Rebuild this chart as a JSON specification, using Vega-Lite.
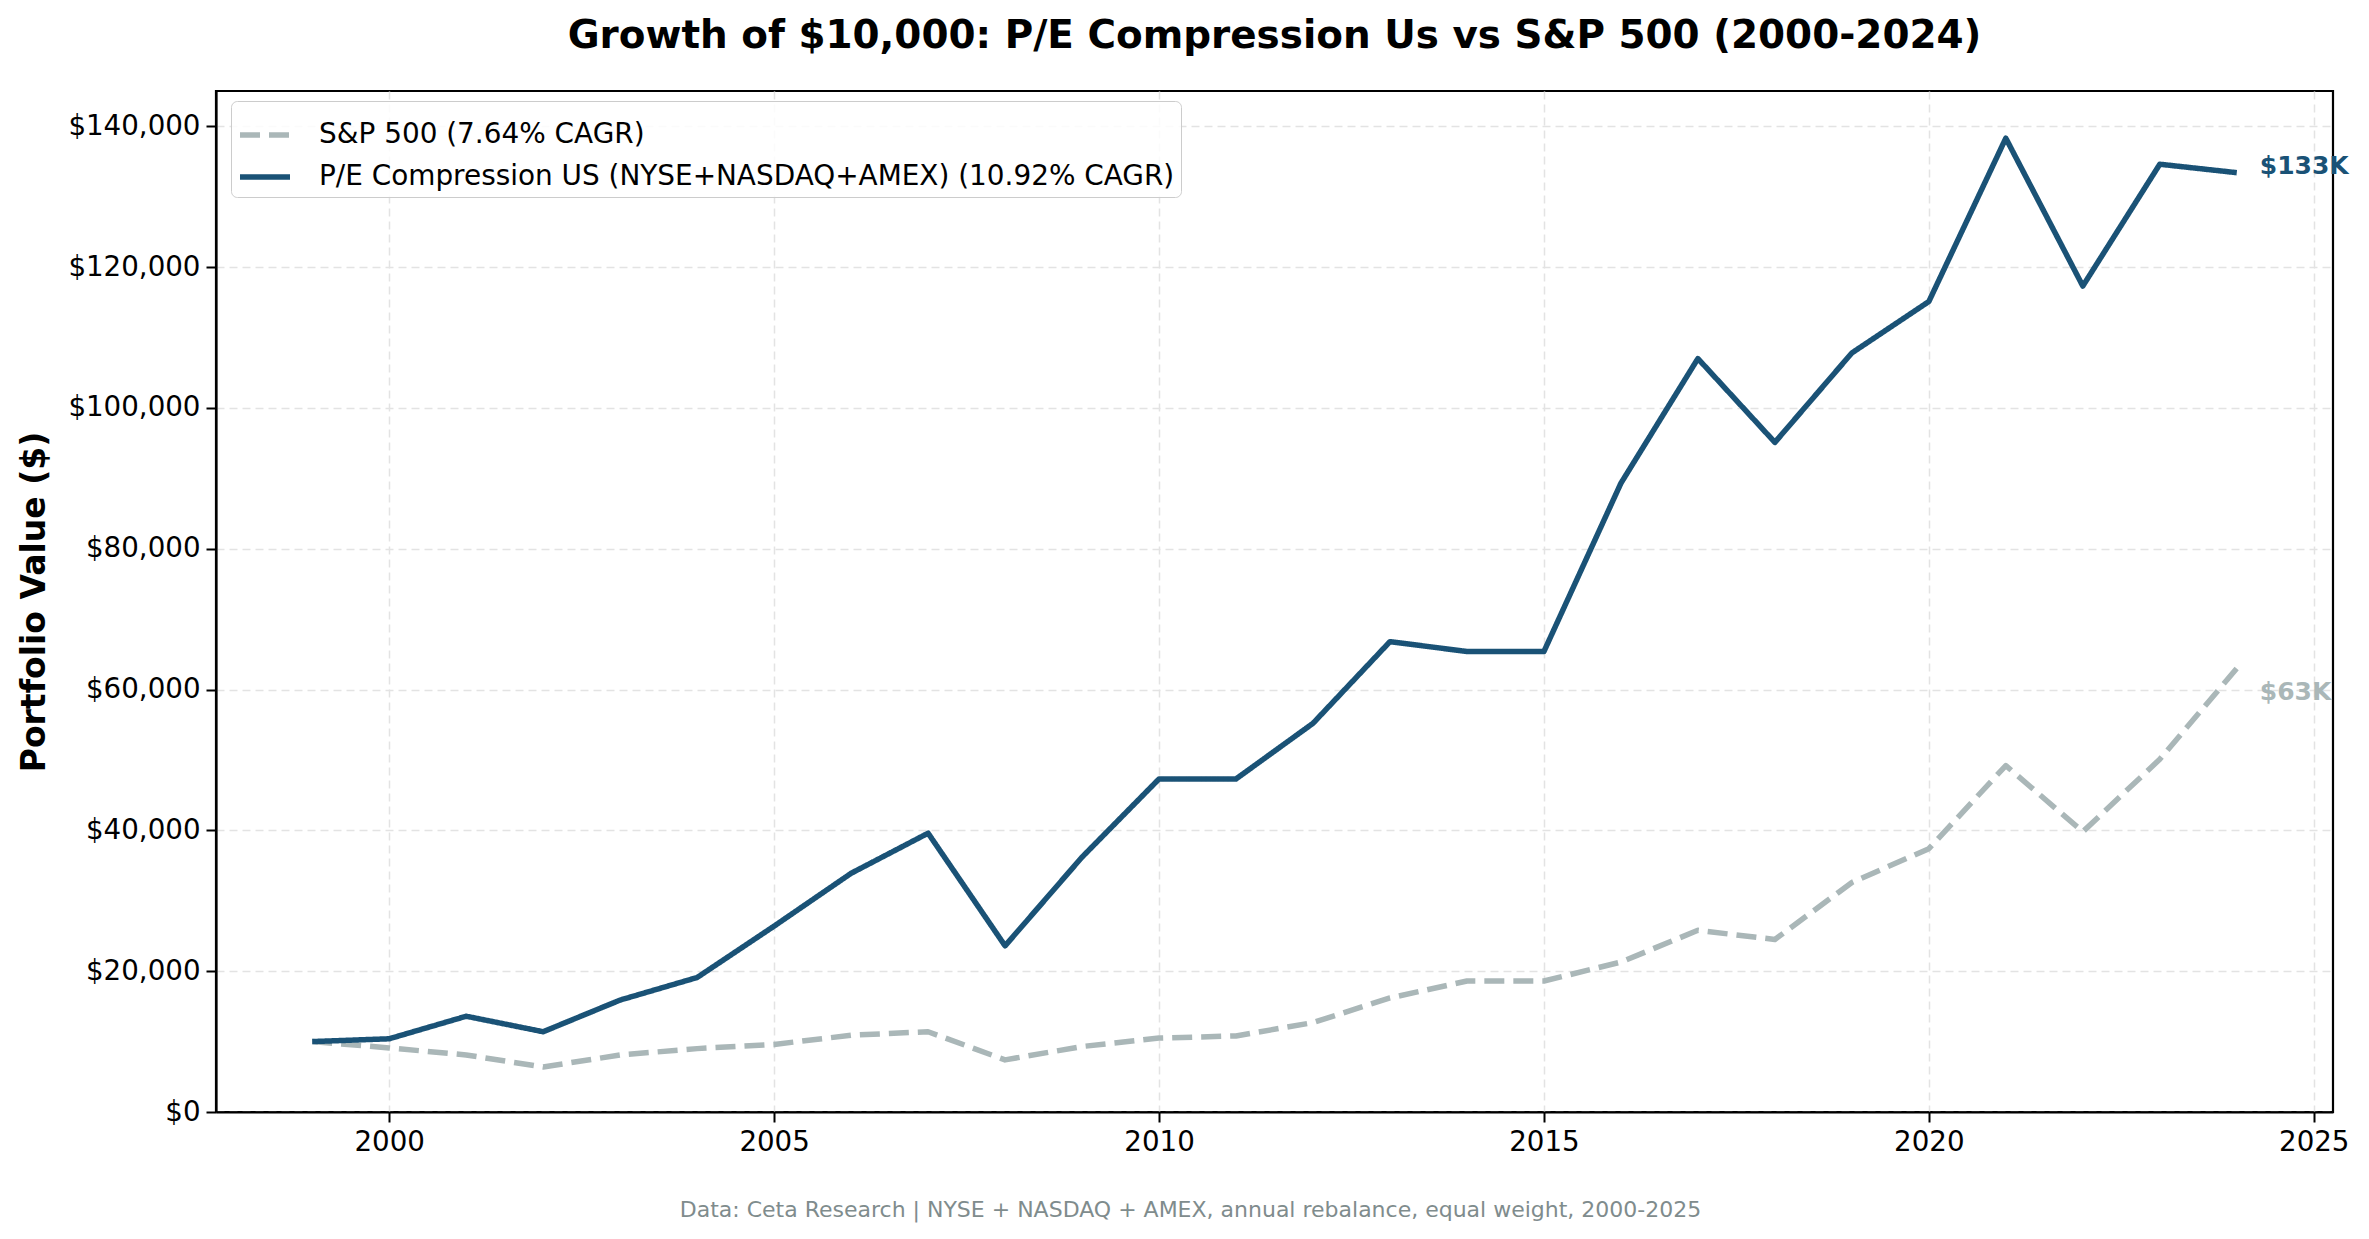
{
  "$schema": "https://vega.github.io/schema/vega-lite/v6.json",
  "width": 2117,
  "height": 1021,
  "autosize": {"type": "none"},
  "padding": {"left": 216, "top": 91, "right": 36, "bottom": 127},
  "background": "white",
  "title": {
    "text": "Growth of $10,000: P/E Compression Us vs S&P 500 (2000-2024)",
    "anchor": "middle",
    "frame": "group",
    "baseline": "bottom",
    "offset": -4,
    "font": "DejaVu Sans",
    "fontSize": 38.9,
    "fontWeight": "bold",
    "color": "black"
  },
  "data": {
    "values": [
      {"year": 1999, "series": "S&P 500 (7.64% CAGR)", "value": 10000},
      {"year": 2000, "series": "S&P 500 (7.64% CAGR)", "value": 9100},
      {"year": 2001, "series": "S&P 500 (7.64% CAGR)", "value": 8100},
      {"year": 2002, "series": "S&P 500 (7.64% CAGR)", "value": 6400},
      {"year": 2003, "series": "S&P 500 (7.64% CAGR)", "value": 8100},
      {"year": 2004, "series": "S&P 500 (7.64% CAGR)", "value": 9000},
      {"year": 2005, "series": "S&P 500 (7.64% CAGR)", "value": 9600},
      {"year": 2006, "series": "S&P 500 (7.64% CAGR)", "value": 10900},
      {"year": 2007, "series": "S&P 500 (7.64% CAGR)", "value": 11400},
      {"year": 2008, "series": "S&P 500 (7.64% CAGR)", "value": 7400},
      {"year": 2009, "series": "S&P 500 (7.64% CAGR)", "value": 9300},
      {"year": 2010, "series": "S&P 500 (7.64% CAGR)", "value": 10500},
      {"year": 2011, "series": "S&P 500 (7.64% CAGR)", "value": 10800},
      {"year": 2012, "series": "S&P 500 (7.64% CAGR)", "value": 12700},
      {"year": 2013, "series": "S&P 500 (7.64% CAGR)", "value": 16200},
      {"year": 2014, "series": "S&P 500 (7.64% CAGR)", "value": 18600},
      {"year": 2015, "series": "S&P 500 (7.64% CAGR)", "value": 18600},
      {"year": 2016, "series": "S&P 500 (7.64% CAGR)", "value": 21300},
      {"year": 2017, "series": "S&P 500 (7.64% CAGR)", "value": 25800},
      {"year": 2018, "series": "S&P 500 (7.64% CAGR)", "value": 24500},
      {"year": 2019, "series": "S&P 500 (7.64% CAGR)", "value": 32600},
      {"year": 2020, "series": "S&P 500 (7.64% CAGR)", "value": 37400},
      {"year": 2021, "series": "S&P 500 (7.64% CAGR)", "value": 49200},
      {"year": 2022, "series": "S&P 500 (7.64% CAGR)", "value": 39800},
      {"year": 2023, "series": "S&P 500 (7.64% CAGR)", "value": 50100},
      {"year": 2024, "series": "S&P 500 (7.64% CAGR)", "value": 63000},
      {"year": 1999, "series": "P/E Compression US (NYSE+NASDAQ+AMEX) (10.92% CAGR)", "value": 10000},
      {"year": 2000, "series": "P/E Compression US (NYSE+NASDAQ+AMEX) (10.92% CAGR)", "value": 10400},
      {"year": 2001, "series": "P/E Compression US (NYSE+NASDAQ+AMEX) (10.92% CAGR)", "value": 13600},
      {"year": 2002, "series": "P/E Compression US (NYSE+NASDAQ+AMEX) (10.92% CAGR)", "value": 11400},
      {"year": 2003, "series": "P/E Compression US (NYSE+NASDAQ+AMEX) (10.92% CAGR)", "value": 15900},
      {"year": 2004, "series": "P/E Compression US (NYSE+NASDAQ+AMEX) (10.92% CAGR)", "value": 19100},
      {"year": 2005, "series": "P/E Compression US (NYSE+NASDAQ+AMEX) (10.92% CAGR)", "value": 26400},
      {"year": 2006, "series": "P/E Compression US (NYSE+NASDAQ+AMEX) (10.92% CAGR)", "value": 33900},
      {"year": 2007, "series": "P/E Compression US (NYSE+NASDAQ+AMEX) (10.92% CAGR)", "value": 39600},
      {"year": 2008, "series": "P/E Compression US (NYSE+NASDAQ+AMEX) (10.92% CAGR)", "value": 23600},
      {"year": 2009, "series": "P/E Compression US (NYSE+NASDAQ+AMEX) (10.92% CAGR)", "value": 36200},
      {"year": 2010, "series": "P/E Compression US (NYSE+NASDAQ+AMEX) (10.92% CAGR)", "value": 47300},
      {"year": 2011, "series": "P/E Compression US (NYSE+NASDAQ+AMEX) (10.92% CAGR)", "value": 47300},
      {"year": 2012, "series": "P/E Compression US (NYSE+NASDAQ+AMEX) (10.92% CAGR)", "value": 55200},
      {"year": 2013, "series": "P/E Compression US (NYSE+NASDAQ+AMEX) (10.92% CAGR)", "value": 66800},
      {"year": 2014, "series": "P/E Compression US (NYSE+NASDAQ+AMEX) (10.92% CAGR)", "value": 65400},
      {"year": 2015, "series": "P/E Compression US (NYSE+NASDAQ+AMEX) (10.92% CAGR)", "value": 65400},
      {"year": 2016, "series": "P/E Compression US (NYSE+NASDAQ+AMEX) (10.92% CAGR)", "value": 89300},
      {"year": 2017, "series": "P/E Compression US (NYSE+NASDAQ+AMEX) (10.92% CAGR)", "value": 107000},
      {"year": 2018, "series": "P/E Compression US (NYSE+NASDAQ+AMEX) (10.92% CAGR)", "value": 95100},
      {"year": 2019, "series": "P/E Compression US (NYSE+NASDAQ+AMEX) (10.92% CAGR)", "value": 107800},
      {"year": 2020, "series": "P/E Compression US (NYSE+NASDAQ+AMEX) (10.92% CAGR)", "value": 115100},
      {"year": 2021, "series": "P/E Compression US (NYSE+NASDAQ+AMEX) (10.92% CAGR)", "value": 138300},
      {"year": 2022, "series": "P/E Compression US (NYSE+NASDAQ+AMEX) (10.92% CAGR)", "value": 117300},
      {"year": 2023, "series": "P/E Compression US (NYSE+NASDAQ+AMEX) (10.92% CAGR)", "value": 134600},
      {"year": 2024, "series": "P/E Compression US (NYSE+NASDAQ+AMEX) (10.92% CAGR)", "value": 133400}
    ]
  },
  "encoding": {
    "x": {
      "field": "year",
      "type": "quantitative",
      "scale": {"domain": [1997.75, 2025.25], "nice": false, "zero": false},
      "axis": {
        "values": [2000, 2005, 2010, 2015, 2020, 2025],
        "format": "d",
        "title": "Data: Ceta Research | NYSE + NASDAQ + AMEX, annual rebalance, equal weight, 2000-2025",
        "titleFontSize": 22,
        "titleFontWeight": "normal",
        "titleColor": "#7f8c8d",
        "titleX": 974,
        "titleAlign": "center",
        "titlePadding": 44
      }
    },
    "y": {
      "field": "value",
      "type": "quantitative",
      "scale": {"domain": [0, 145000], "nice": false},
      "axis": {
        "values": [0, 20000, 40000, 60000, 80000, 100000, 120000, 140000],
        "format": "$,d",
        "title": "Portfolio Value ($)",
        "titleFontSize": 33,
        "titleFontWeight": "bold",
        "titleColor": "black",
        "titlePadding": 16
      }
    }
  },
  "layer": [
    {
      "mark": {"type": "line", "strokeWidth": 5.5, "strokeCap": "butt", "strokeJoin": "round"},
      "encoding": {
        "color": {
          "field": "series",
          "type": "nominal",
          "scale": {
            "domain": ["S&P 500 (7.64% CAGR)", "P/E Compression US (NYSE+NASDAQ+AMEX) (10.92% CAGR)"],
            "range": ["#aab7b8", "#1a5276"]
          },
          "legend": {"title": null}
        },
        "strokeDash": {
          "field": "series",
          "type": "nominal",
          "scale": {
            "domain": ["S&P 500 (7.64% CAGR)", "P/E Compression US (NYSE+NASDAQ+AMEX) (10.92% CAGR)"],
            "range": [[20, 9], [1, 0]]
          },
          "legend": {"title": null}
        },
        "order": {"field": "year", "type": "quantitative"}
      }
    },
    {
      "transform": [{"filter": "datum.year == 2024 && datum.value > 100000"}],
      "mark": {"type": "text", "align": "left", "baseline": "middle", "dx": 23, "dy": -7, "font": "DejaVu Sans", "fontSize": 25, "fontWeight": "bold", "color": "#1a5276"},
      "encoding": {"text": {"value": "$133K"}}
    },
    {
      "transform": [{"filter": "datum.year == 2024 && datum.value < 100000"}],
      "mark": {"type": "text", "align": "left", "baseline": "middle", "dx": 23, "dy": 24, "font": "DejaVu Sans", "fontSize": 25, "fontWeight": "bold", "color": "#aab7b8"},
      "encoding": {"text": {"value": "$63K"}}
    }
  ],
  "config": {
    "font": "DejaVu Sans",
    "view": {"stroke": "black", "strokeWidth": 2.2},
    "axis": {
      "domain": true,
      "domainColor": "black",
      "domainWidth": 2.2,
      "grid": true,
      "gridColor": "#e3e3e3",
      "gridDash": [8, 5],
      "gridWidth": 1.5,
      "tickColor": "black",
      "tickSize": 10,
      "tickWidth": 2,
      "labelColor": "black",
      "labelFont": "DejaVu Sans",
      "labelFontSize": 27.7,
      "labelPadding": 6,
      "titleFont": "DejaVu Sans"
    },
    "legend": {
      "orient": "none",
      "legendX": 15,
      "legendY": 10,
      "padding": 6,
      "fillColor": "rgba(255,255,255,0.85)",
      "strokeColor": "#cccccc",
      "cornerRadius": 6,
      "symbolType": "stroke",
      "symbolSize": 2500,
      "symbolStrokeWidth": 5.5,
      "labelFont": "DejaVu Sans",
      "labelFontSize": 27.9,
      "labelColor": "black",
      "labelOffset": 26,
      "rowPadding": -7,
      "labelLimit": 2000
    }
  }
}
